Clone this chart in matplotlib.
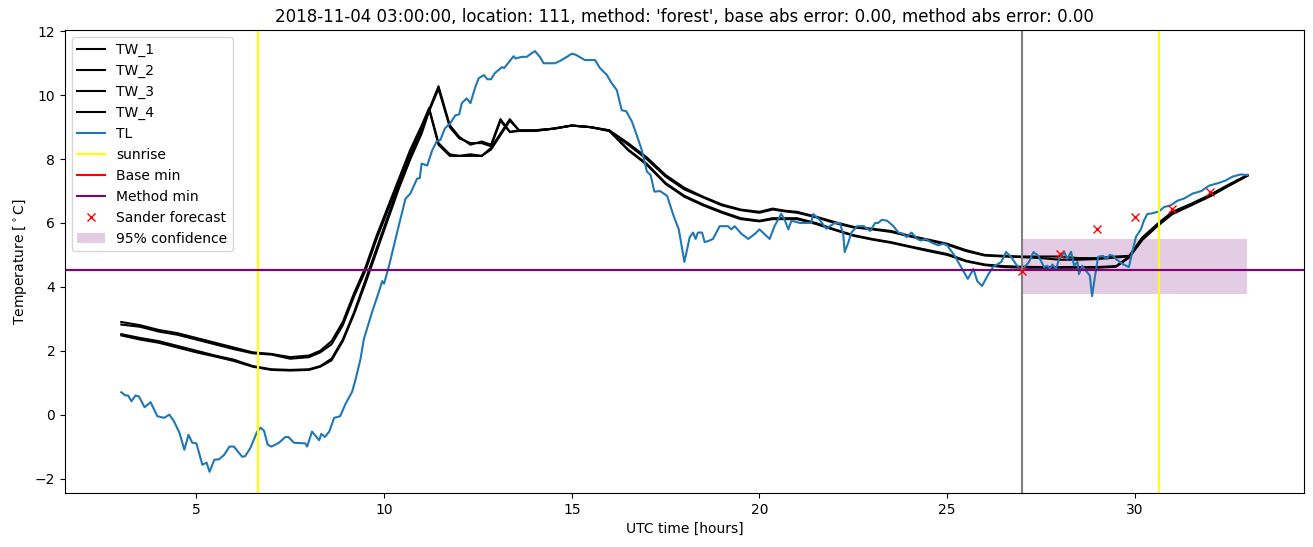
import matplotlib
matplotlib.use("Agg")
import matplotlib.pyplot as plt

# road sensor temperatures, hours since 2018-11-04 00:00 UTC
tw_hours = [3.0, 3.5, 4.0, 4.5, 5.0, 5.5, 6.0, 6.5, 7.0, 7.5, 8.0, 8.3, 8.6, 8.9, 9.2, 9.5,
            9.8, 10.1, 10.4, 10.7, 11.0, 11.2, 11.45, 11.75, 12.0, 12.3, 12.6, 12.85, 13.1,
            13.35, 13.6, 14.0, 14.5, 15.0, 15.5, 16.0, 16.5, 17.0, 17.5, 18.0, 18.5, 19.0,
            19.5, 20.0, 20.35, 20.7, 21.0, 21.5, 22.0, 22.5, 23.0, 23.5, 24.0, 24.5, 25.0,
            25.5, 26.0, 26.5, 27.0, 27.5, 28.0, 28.5, 29.0, 29.5, 29.85, 30.2, 30.6, 31.0,
            31.5, 32.0, 32.5, 33.0]

tw_1 = [2.9, 2.8, 2.65, 2.55, 2.4, 2.25, 2.1, 1.95, 1.9, 1.8, 1.85, 2.0, 2.3, 2.9, 3.8, 4.6,
        5.6, 6.5, 7.4, 8.3, 9.05, 9.6, 8.5, 8.15, 8.1, 8.15, 8.1, 8.3, 8.75,
        9.2, 8.9, 8.9, 8.95, 9.05, 9.0, 8.9, 8.5, 8.05, 7.5, 7.1, 6.82, 6.58,
        6.42, 6.35, 6.45, 6.38, 6.35, 6.2, 6.03, 5.88, 5.82, 5.75, 5.6, 5.48, 5.35,
        5.15, 5.0, 4.97, 4.95, 4.95, 4.95, 4.9, 4.9, 4.95, 4.97, 5.55, 5.97, 6.35,
        6.6, 6.88, 7.2, 7.5]
tw_2 = [2.82, 2.75, 2.6, 2.5, 2.35, 2.2, 2.05, 1.92, 1.88, 1.75, 1.8, 1.95, 2.2, 2.8, 3.7, 4.5,
        5.5, 6.4, 7.3, 8.2, 8.95, 9.55, 8.45, 8.1, 8.1, 8.1, 8.1, 8.35, 8.8,
        9.25, 8.88, 8.88, 8.95, 9.05, 9.0, 8.88, 8.45, 8.0, 7.45, 7.05, 6.8, 6.55,
        6.4, 6.32, 6.42, 6.36, 6.32, 6.18, 6.0, 5.86, 5.8, 5.72, 5.58, 5.45, 5.32,
        5.12, 4.98, 4.95, 4.93, 4.9, 4.85, 4.85, 4.87, 4.92, 4.95, 5.52, 5.95, 6.33,
        6.58, 6.86, 7.18, 7.48]
tw_3 = [2.52, 2.4, 2.3, 2.15, 2.0, 1.85, 1.72, 1.52, 1.42, 1.4, 1.42, 1.52, 1.75, 2.35, 3.2, 4.2,
        5.2, 6.2, 7.2, 8.1, 8.9, 9.55, 10.28, 9.06, 8.7, 8.45, 8.55, 8.45, 9.25,
        8.85, 8.9, 8.9, 8.95, 9.05, 9.0, 8.9, 8.3, 7.85, 7.25, 6.85, 6.58, 6.35,
        6.15, 6.07, 6.15, 6.15, 6.15, 6.0, 5.8, 5.62, 5.5, 5.4, 5.27, 5.15, 5.03,
        4.82, 4.7, 4.65, 4.63, 4.62, 4.62, 4.62, 4.62, 4.65, 4.95, 5.5, 5.93, 6.3,
        6.58, 6.85, 7.18, 7.5]
tw_4 = [2.48, 2.35, 2.25, 2.1, 1.95, 1.82, 1.68, 1.5, 1.4, 1.38, 1.4, 1.5, 1.7, 2.3, 3.15, 4.1,
        5.1, 6.1, 7.1, 8.0, 8.8, 9.5, 10.2, 9.0, 8.65, 8.5, 8.5, 8.4, 9.2,
        8.85, 8.88, 8.88, 8.95, 9.05, 9.0, 8.88, 8.28, 7.82, 7.22, 6.82, 6.55, 6.32,
        6.12, 6.05, 6.12, 6.12, 6.12, 5.97, 5.78, 5.6, 5.48, 5.38, 5.25, 5.12, 5.0,
        4.8, 4.68, 4.62, 4.6, 4.6, 4.6, 4.6, 4.6, 4.63, 4.92, 5.47, 5.9, 6.28,
        6.55, 6.83, 7.16, 7.48]

# air temperature
tl_hours = [3.0, 3.11, 3.18, 3.27, 3.38, 3.47, 3.62, 3.78, 3.96, 4.14, 4.28, 4.4, 4.55, 4.68,
            4.79, 4.89, 5.0, 5.16, 5.27, 5.35, 5.48, 5.6, 5.74, 5.88, 6.0, 6.22, 6.3, 6.44,
            6.62, 6.71, 6.8, 6.9, 7.0, 7.2, 7.37, 7.45, 7.6, 7.9, 7.95, 8.08, 8.2, 8.27,
            8.33, 8.42, 8.54, 8.67, 8.83, 8.97, 9.15, 9.24, 9.37, 9.46, 9.68, 9.86, 9.95,
            10.0, 10.13, 10.35, 10.57, 10.7, 10.88, 10.95, 11.0, 11.15, 11.28, 11.4, 11.5,
            11.62, 11.76, 11.9, 12.0, 12.07, 12.2, 12.3, 12.42, 12.52, 12.66, 12.75, 12.85,
            12.95, 13.14, 13.2, 13.35, 13.45, 13.5, 13.67, 13.8, 13.94, 14.02, 14.15, 14.25,
            14.55, 14.7, 14.87, 15.0, 15.1, 15.35, 15.62, 15.75, 15.93, 16.06, 16.2, 16.33,
            16.45, 16.6, 16.73, 16.86, 17.0, 17.1, 17.2, 17.35, 17.54, 17.71, 17.85, 18.0,
            18.14, 18.23, 18.3, 18.36, 18.47, 18.54, 18.67, 18.76, 18.94, 19.16, 19.25,
            19.34, 19.52, 19.7, 19.88, 20.0, 20.27, 20.4, 20.58, 20.67, 20.77, 20.85, 21.08,
            21.38, 21.43, 21.6, 21.78, 22.0, 22.14, 22.23, 22.27, 22.37, 22.45, 22.6, 22.78,
            22.95, 23.08, 23.16, 23.26, 23.4, 23.57, 23.7, 23.83, 23.92, 24.05, 24.2, 24.3,
            24.43, 24.56, 24.76, 24.9, 25.0, 25.2, 25.37, 25.55, 25.7, 25.8, 25.93, 26.1,
            26.22, 26.44, 26.57, 26.7, 26.84, 26.97, 27.18, 27.3, 27.43, 27.58, 27.67, 27.73,
            27.8, 27.9, 27.98, 28.12, 28.2, 28.3, 28.38, 28.47, 28.51, 28.6, 28.7, 28.8,
            28.86, 28.94, 29.02, 29.15, 29.25, 29.33, 29.42, 29.5, 29.6, 29.7, 29.84, 29.93,
            30.03, 30.16, 30.24, 30.33, 30.45, 30.64, 30.78, 30.95, 31.14, 31.3, 31.54,
            31.77, 31.98, 32.2, 32.42, 32.6, 32.82, 33.0]
tl = [0.7, 0.6, 0.6, 0.42, 0.6, 0.57, 0.23, 0.39, -0.05, -0.1, 0.0, -0.2, -0.57, -1.1,
      -0.63, -0.88, -0.9, -1.57, -1.5, -1.79, -1.41, -1.4, -1.26, -1.0, -1.0, -1.32, -1.3, -1.04,
      -0.53, -0.41, -0.5, -0.94, -1.0, -0.88, -0.7, -0.7, -0.88, -0.9, -1.0, -0.53, -0.7, -0.8,
      -0.6, -0.7, -0.53, -0.1, -0.05, 0.33, 0.72, 1.1, 1.73, 2.36, 3.21, 3.84, 4.18,
      4.1, 4.65, 5.72, 6.76, 6.92, 7.39, 7.4, 7.86, 7.8, 8.27, 8.55, 8.6,
      8.96, 9.12, 9.37, 9.4, 9.75, 9.9, 9.75, 10.22, 10.53, 10.63, 10.5, 10.5,
      10.69, 10.88, 10.85, 11.07, 11.22, 11.15, 11.2, 11.2, 11.32, 11.38, 11.2, 11.0,
      11.0, 11.08, 11.2, 11.3, 11.27, 11.1, 11.1, 10.85, 10.64, 10.38, 10.16, 9.53,
      9.5, 9.18, 8.75, 8.3, 7.61, 7.5, 6.98, 7.0, 6.85, 6.23, 5.8, 4.78,
      5.55, 5.7, 5.5, 5.7, 5.7, 5.4, 5.45, 5.5, 5.9, 5.9, 5.8,
      5.9, 5.66, 5.5, 5.66, 5.8, 5.5, 5.9, 6.29, 6.1, 5.8, 6.07, 6.0,
      6.0, 6.28, 6.1, 5.82, 6.0, 6.0, 5.66, 5.09, 5.4, 5.7, 5.9, 5.9,
      5.75, 6.0, 6.0, 6.1, 6.07, 5.9, 5.7, 5.66, 5.56, 5.7, 5.5, 5.45,
      5.5, 5.4, 5.3, 5.35, 5.3, 4.97, 4.62, 4.25, 4.56, 4.18, 4.03, 4.4,
      4.62, 4.78, 5.09, 4.94, 4.7, 4.5, 4.78, 5.09, 4.97, 4.62, 4.66, 4.56,
      4.7, 4.56, 4.87, 5.09, 4.87, 5.1, 4.66, 4.78, 4.4, 4.66, 4.5, 4.35,
      3.71, 4.35, 4.94, 4.97, 4.87, 5.0, 4.97, 4.87, 4.78, 4.7, 4.62, 5.09,
      5.57, 5.8, 6.07, 6.28, 6.3, 6.36, 6.5, 6.55, 6.7, 6.76, 6.92,
      7.0, 7.17, 7.24, 7.33, 7.45, 7.52, 7.5]

sunrise_hours = [6.65, 30.64]
forecast_start = 27.0
base_min = 4.53
method_min = 4.53

sander_hours = [27, 28, 29, 30, 31, 32]
sander_values = [4.5, 5.02, 5.82, 6.2, 6.43, 6.96]

conf_hours = [27.0, 33.0]
conf_low = 3.78
conf_high = 5.5

fig, ax = plt.subplots(figsize=(13.13, 5.47), dpi=100)
fig.subplots_adjust(left=0.0495, right=0.993, top=0.945, bottom=0.099)

for name, vals in [("TW_1", tw_1), ("TW_2", tw_2), ("TW_3", tw_3), ("TW_4", tw_4)]:
    ax.plot(tw_hours, vals, color="black", label=name)
ax.plot(tl_hours, tl, color="tab:blue", label="TL")
for i, h in enumerate(sunrise_hours):
    ax.axvline(h, color="yellow", label="sunrise" if i == 0 else None)
ax.axhline(base_min, color="red", label="Base min")
ax.axhline(method_min, color="purple", label="Method min")
ax.axvline(forecast_start, color="gray")
ax.plot(sander_hours, sander_values, "rx", label="Sander forecast")
ax.fill_between(conf_hours, conf_low, conf_high, color="purple", alpha=0.2,
                linewidth=0, label="95% confidence")

ax.set_xlabel("UTC time [hours]")
ax.set_ylabel(r"Temperature [$^\circ$C]")
ax.set_title("2018-11-04 03:00:00, location: 111, method: 'forest', "
             "base abs error: 0.00, method abs error: 0.00")
ax.legend(loc="upper left")

fig.savefig("out.png")
